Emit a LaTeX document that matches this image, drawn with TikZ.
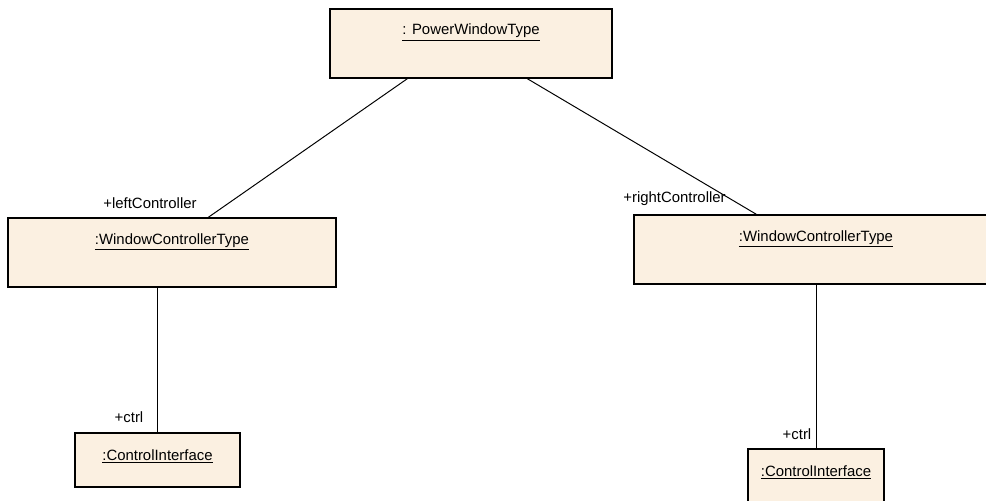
\documentclass[tikz,border=0pt]{standalone}
\usepackage{fontspec}
\setmainfont{Liberation Sans}
\usetikzlibrary{positioning}
\definecolor{objfill}{RGB}{251,240,225}
\begin{document}
\begin{tikzpicture}
            [x=0.025cm, y=-0.025cm,
            font=\fontsize{10.6}{12}\selectfont,
            objbox/.style={draw=black, line width=1pt, fill=objfill,
            inner sep=0pt, text height=0.65cm, text depth=1.075cm},
            smallbox/.style={objbox, text height=0.675cm, text depth=0.675cm},
            role/.style={inner sep=0pt},
            link/.style={draw=black, line width=0.7pt}]
            \clip (0,0) rectangle (986,500);
            \node [objbox, minimum width=282*0.025cm] (pwt) at (471,43.5) {\underline{: PowerWindowType}};
            \node [objbox, minimum width=328*0.025cm] (leftwc) at (172,252.5) {\underline{:WindowControllerType}};
            \node [objbox, minimum width=364*0.025cm] (rightwc) at (816,249.5) {\underline{:WindowControllerType}};
            \node [smallbox, minimum width=165*0.025cm] (leftci) at (157.5,460) {\underline{:ControlInterface}};
            \node [smallbox, minimum width=136*0.025cm] (rightci) at (816,476) {\underline{:ControlInterface}};
            % role names
            \node [role] (leftrole) at (150,203) {+leftController};
            \node [role] (rightrole) at (674.5,199) {+rightController};
            \node [role] (leftctrl) at (129,417) {+ctrl};
            \node [role] (rightctrl) at (797,434) {+ctrl};
            % links
            \draw [link] ([xshift=1.95cm]pwt.south west) -- ([xshift=5.025cm]leftwc.north west);
            \draw [link] ([xshift=4.95cm]pwt.south west) -- ([xshift=3.075cm]rightwc.north west);
            \draw [link] (leftci.north) -- (leftci.north |- leftwc.south);
            \draw [link] (rightci.north) -- (rightci.north |- rightwc.south);
\end{tikzpicture}
\end{document}
